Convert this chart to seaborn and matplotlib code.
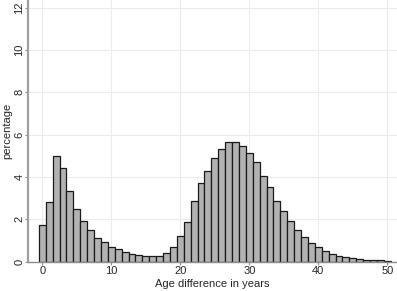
"""Histogram of age difference in years (percentage of couples)."""
import pandas as pd
import matplotlib
matplotlib.use('Agg')
import matplotlib.pyplot as plt
import seaborn as sns

# %%
# values
ages = list(range(0, 51))
pct = [1.72, 2.82, 4.99, 4.41, 3.31, 2.50, 1.92, 1.47, 1.11, 0.90,
       0.69, 0.57, 0.44, 0.36, 0.30, 0.24, 0.24, 0.24, 0.39, 0.69,
       1.21, 1.89, 2.85, 3.73, 4.27, 4.87, 5.34, 5.64, 5.64, 5.44,
       5.15, 4.68, 4.02, 3.50, 2.87, 2.38, 1.90, 1.49, 1.16, 0.89,
       0.67, 0.50, 0.36, 0.25, 0.21, 0.15, 0.11, 0.08, 0.06, 0.05, 0.03]
xticks = [0, 10, 20, 30, 40, 50]
yticks = [0, 2, 4, 6, 8, 10, 12]

df = pd.DataFrame({'age_diff': ages, 'pct': pct})

# %%
sns.set_style('white')
plt.rcParams['font.family'] = ['Liberation Sans', 'DejaVu Sans']

fig = plt.figure(figsize=(3.97, 2.91), dpi=100)
ax = fig.add_axes([28 / 397, 29.5 / 291, 369 / 397, 261.5 / 291])

sns.histplot(data=df, x='age_diff', weights='pct', discrete=True,
             color='#b2b2b2', alpha=1, edgecolor='#1a1a1a', linewidth=0.9, ax=ax)

ax.set_xlim(-2.07, 51.4)
ax.set_ylim(0, 12.36)
ax.set_xticks(xticks)
ax.set_yticks(yticks)
ax.grid(True, color='#ececec', linewidth=0.8)
ax.set_axisbelow(True)

ax.spines['top'].set_visible(False)
ax.spines['right'].set_visible(False)
ax.spines['left'].set_color('#a0a0a0')
ax.spines['left'].set_linewidth(1.6)
ax.spines['bottom'].set_color('#8c8c8c')
ax.spines['bottom'].set_linewidth(1.0)

ax.tick_params(axis='both', direction='out', length=2, width=0.8, color='#8c8c8c',
               labelsize=8, bottom=True, left=True)
ax.tick_params(axis='x', pad=1.2)
ax.tick_params(axis='y', pad=0.5, labelrotation=90)
for lab in ax.get_yticklabels():
    lab.set_va('center')

ax.set_xlabel('Age difference in years', fontsize=8)
ax.set_ylabel('percentage', fontsize=8)
ax.xaxis.set_label_coords(0.5, -(278.6 - 261.5) / 261.5)
ax.yaxis.set_label_coords((12.2 - 28) / 369, 0.5)

plt.savefig('out.png', dpi=100)
